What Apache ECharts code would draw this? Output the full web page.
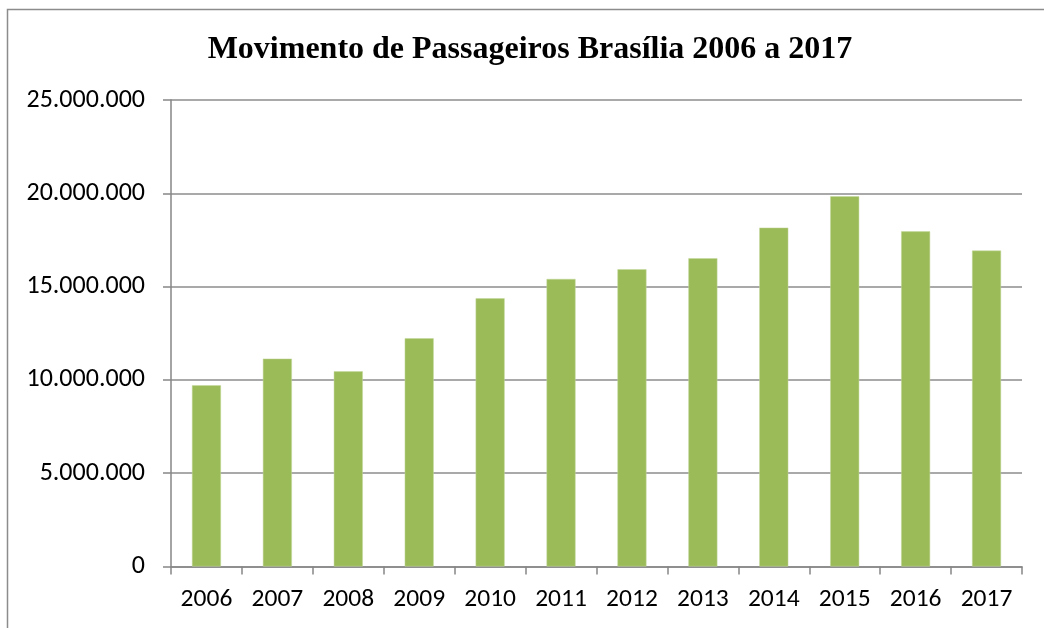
<!DOCTYPE html>
<html>
<head>
	<meta charset="UTF-8">
	<title>Movimento de Passageiros Brasília</title>
	<script src="https://cdn.jsdelivr.net/npm/echarts@6/dist/echarts.min.js"></script>
	<style>
		html, body { margin: 0; padding: 0; background: #fff; }
		#chart { width: 1044px; height: 628px; }
	</style>
</head>
<body>
	<div id="chart"></div>
	<script>
		// anos e passageiros
		var anos = ["2006","2007","2008","2009","2010","2011","2012","2013","2014","2015","2016","2017"];
		var passageiros = [9710000, 11140000, 10460000, 12230000, 14370000, 15410000, 15930000, 16520000, 18160000, 19840000, 17960000, 16930000];
		var yTicks = [0, 5000000, 10000000, 15000000, 20000000, 25000000];

		function pontos(v) {
			return String(v).replace(/\B(?=(\d{3})+(?!\d))/g, ".");
		}

		var myChart = echarts.init(document.getElementById('chart'));
		var option = {
			animation: false,
			backgroundColor: '#fff',
			title: {
				text: 'Movimento de Passageiros Brasília 2006 a 2017',
				left: 525,
				textAlign: 'center',
				top: 29,
				textStyle: {
					fontFamily: '"Liberation Serif", "Times New Roman", serif',
					fontWeight: 'bold',
					fontSize: 32,
					color: '#000'
				}
			},
			graphic: [{
				type: 'rect',
				shape: { x: 7.5, y: 9.5, width: 1100, height: 700 },
				style: { fill: 'none', stroke: '#8c8c8c', lineWidth: 1.5 },
				silent: true
			}],
			grid: {
				left: 171,
				right: 22,
				top: 100,
				bottom: 61.5
			},
			xAxis: {
				type: 'category',
				data: anos,
				axisLine: { lineStyle: { color: '#868686', width: 1.5 } },
				axisTick: { show: true, length: 8, lineStyle: { color: '#868686', width: 1.5 } },
				axisLabel: {
					color: '#000',
					fontSize: 25.5,
					fontFamily: 'Carlito, Lato, "Open Sans", sans-serif',
					margin: 20
				}
			},
			yAxis: {
				type: 'value',
				min: yTicks[0],
				max: yTicks[yTicks.length - 1],
				interval: 5000000,
				axisLine: { show: true, lineStyle: { color: '#868686', width: 1.5 } },
				axisTick: { show: true, length: 8, lineStyle: { color: '#868686', width: 1.5 } },
				splitLine: { lineStyle: { color: '#8c8c8c', width: 1.5 } },
				axisLabel: {
					color: '#000',
					fontSize: 26,
					fontFamily: 'Carlito, Lato, "Open Sans", sans-serif',
					margin: 26,
					formatter: function(v) { return pontos(v); }
				}
			},
			series: [{
				type: 'bar',
				data: passageiros,
				barWidth: 29,
				itemStyle: {
					color: '#9bbb59',
					borderColor: '#c4d89c',
					borderWidth: 0.5
				}
			}]
		};
		myChart.setOption(option);
	</script>
</body>
</html>
